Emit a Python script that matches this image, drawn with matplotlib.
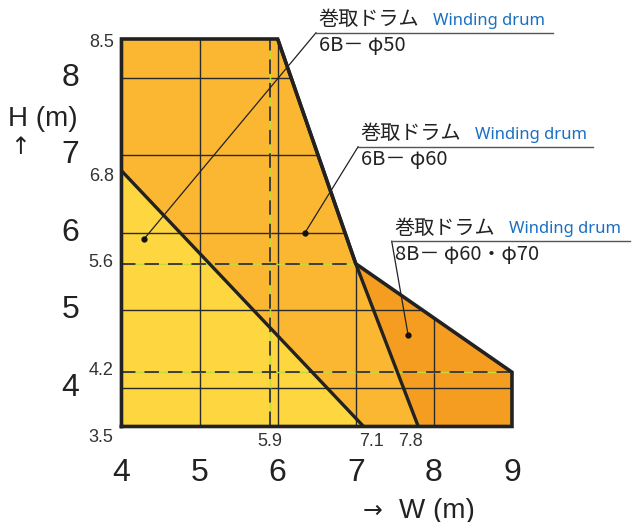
import matplotlib
matplotlib.use("Agg")
import matplotlib.pyplot as plt
from matplotlib.patches import Polygon

# operating ranges (W, H in metres)
outer_w = [4, 4, 6, 7, 9, 9]          # 8B - phi60/phi70
outer_h = [3.5, 8.5, 8.5, 5.6, 4.2, 3.5]
mid_w = [4, 4, 6, 7, 7.8]             # 6B - phi60
mid_h = [3.5, 8.5, 8.5, 5.6, 3.5]
small_w = [4, 4, 7.1]                 # 6B - phi50
small_h = [3.5, 6.8, 3.5]

grid_w = [5, 6, 7, 8]
grid_h = [4, 5, 6, 7, 8]
x_ticks = [4, 5, 6, 7, 8, 9]
y_ticks = [4, 5, 6, 7, 8]
x_marks = [5.9, 7.1, 7.8]
y_marks = [3.5, 4.2, 5.6, 6.8, 8.5]
dash_w = 5.9
dash_h = [(5.6, 7), (4.2, 9)]

drum_labels = ["6B－ φ50", "6B－ φ60", "8B－ φ60・φ70"]
drum_dots = [(4.29, 5.92), (6.35, 6.0), (7.67, 4.68)]

JP = ["Noto Sans CJK JP", "DejaVu Sans"]
NUM = ["Liberation Sans", "DejaVu Sans"]

fig = plt.figure(figsize=(6.32, 5.22), dpi=100)
ax = fig.add_axes([0.1922, 0.1830, 0.6179, 0.7423])
ax.set_xlim(4, 9)
ax.set_ylim(3.5, 8.5)
ax.axis("off")

outer = Polygon(list(zip(outer_w, outer_h)), closed=True, fc="#F59D20", ec="none", zorder=1)
ax.add_patch(outer)
ax.add_patch(Polygon(list(zip(mid_w, mid_h)), closed=True, fc="#FBB632", ec="none", zorder=2))
ax.add_patch(Polygon(list(zip(small_w, small_h)), closed=True, fc="#FDD640", ec="none", zorder=3))

# thin grid clipped to the outer range
for w in grid_w:
    ln, = ax.plot([w, w], [3.5, 8.5], color="#2a2a2a", lw=1.0, zorder=4)
    ln.set_clip_path(outer)
for h in grid_h:
    ln, = ax.plot([4, 9], [h, h], color="#2a2a2a", lw=1.0, zorder=4)
    ln.set_clip_path(outer)

# dashed reference lines
lines = [([dash_w, dash_w], [3.5, 8.5])] + [([4, x2], [h, h]) for h, x2 in dash_h]
for xs, ys in lines:
    ax.plot(xs, ys, color="#c8d93a", lw=1.0, zorder=5)
    ax.plot(xs, ys, color="#333333", lw=1.3, dashes=(8, 5), zorder=6)

# thick outlines
ax.plot(outer_w + [outer_w[0]], outer_h + [outer_h[0]], color="#222222", lw=2.6,
        solid_joinstyle="miter", zorder=7, clip_on=False)
ax.plot(mid_w[2:], mid_h[2:], color="#222222", lw=2.4, zorder=7)
ax.plot(small_w[1:], small_h[1:], color="#222222", lw=2.4, zorder=7)

# tick labels
for v in x_ticks:
    ax.text(v, 2.9, str(v), ha="center", va="center", fontsize=23, family=NUM, color="#222222")
for v in y_ticks:
    ax.text(3.46, v, str(v), ha="right", va="center", fontsize=23, family=NUM, color="#222222")

x_mark_pos = [5.9, 7.2, 7.7]
for v, p in zip(x_marks, x_mark_pos):
    ax.text(p, 3.3, str(v), ha="center", va="center", fontsize=13, family=NUM, color="#333333")
y_mark_pos = [3.36, 4.22, 5.62, 6.72, 8.45]
for v, p in zip(y_marks, y_mark_pos):
    ax.text(3.9, p, str(v), ha="right", va="center", fontsize=13, family=NUM, color="#333333")

# axis titles
fig.text(0.013, 0.772, "H (m)", ha="left", va="center", fontsize=20, family=NUM, color="#222222")
fig.text(0.032, 0.718, "↑", ha="center", va="center", fontsize=17, family=["DejaVu Sans"], color="#222222")
fig.text(0.59, 0.022, "→", ha="center", va="center", fontsize=17, family=["DejaVu Sans"], color="#222222")
fig.text(0.632, 0.022, "W (m)", ha="left", va="center", fontsize=20, family=NUM, color="#222222")

# drum annotations: elbow, underline end
elbows = [(6.49, 8.58, 9.52), (7.03, 7.11, 10.04), (7.46, 5.89, 10.51)]
for (dx, dy), (ex, ey, end), lab in zip(drum_dots, elbows, drum_labels):
    ax.plot([dx, ex], [dy, ey], color="#222222", lw=0.9, zorder=8, clip_on=False)
    ax.plot([ex, end], [ey, ey], color="#555555", lw=1.0, zorder=8, clip_on=False)
    ax.plot(dx, dy, "o", color="#111111", ms=3.5, zorder=9)
    ax.text(ex + 0.03, ey + 0.03, "巻取ドラム", ha="left", va="bottom", fontsize=14.5,
            family=JP, color="#222222", clip_on=False)
    ax.text(ex + 1.5, ey + 0.05, "Winding drum", ha="left", va="bottom", fontsize=12,
            family=["Noto Sans", "DejaVu Sans"], color="#1a6fc2", clip_on=False)
    ax.text(ex + 0.04, ey - 0.03, lab, ha="left", va="top", fontsize=14.5,
            family=JP, color="#222222", clip_on=False)

fig.savefig("out.png", dpi=100)
